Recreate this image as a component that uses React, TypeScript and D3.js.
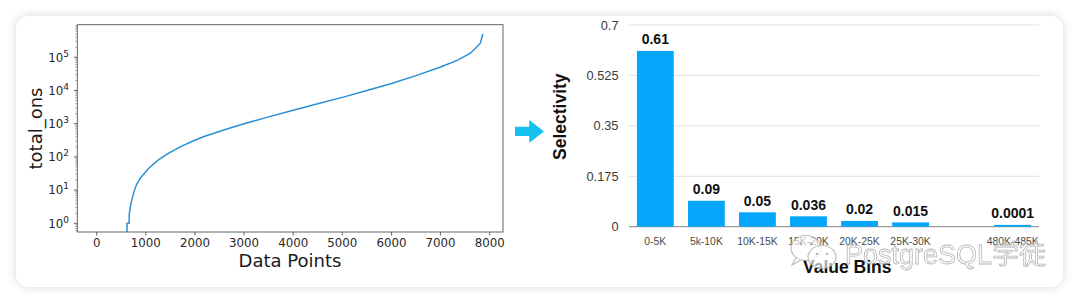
import React from "react";
import * as d3 from "d3";

// ---------- Left chart data (sorted total_ons per data point, log scale) ----------
const pointIndex = [615, 620, 660, 665, 698, 760, 814, 900, 1050, 1250, 1450, 1700, 1960, 2200, 2450, 2700, 3000, 3500, 4000, 4500, 5040, 5500, 6020, 6500, 7000, 7350, 7600, 7700, 7810, 7860];
const totalOns = [0.5, 1, 1, 2, 4, 9, 15, 24, 44, 80, 125, 200, 300, 417, 550, 725, 1000, 1600, 2550, 4000, 6400, 10000, 16500, 28000, 51000, 82000, 130000, 180000, 265000, 500000];
const xTicksLeft = [0, 1000, 2000, 3000, 4000, 5000, 6000, 7000, 8000];
const yExponents = [0, 1, 2, 3, 4, 5];

// ---------- Right chart data (selectivity per value bin) ----------
const bins = ["0-5K", "5k-10K", "10K-15K", "15K-20K", "20K-25K", "25K-30K", "", "480K-485K"];
const selectivity: (number | null)[] = [0.61, 0.09, 0.05, 0.036, 0.02, 0.015, null, 0.0001];
const yTicksRight = [0, 0.175, 0.35, 0.525, 0.7];
const yTickLabelsRight = ["0", "0.175", "0.35", "0.525", "0.7"];

const W = 1080;
const H = 304;

export default function App() {
  // Left chart scales
  const lx = d3.scaleLinear().domain([-394, 8271]).range([77.3, 503]);
  const ly = d3.scaleLog().domain([Math.pow(10, -0.262), Math.pow(10, 5.98)]).range([232, 24.7]);
  const lineGen = d3
    .line<number>()
    .x((_, i) => lx(pointIndex[i]))
    .y((v) => ly(v));
  const linePath = lineGen(totalOns) || "";
  const minorTicks: number[] = [];
  for (let e = -1; e <= 6; e++) {
    for (let m = 2; m <= 9; m++) {
      const v = m * Math.pow(10, e);
      const [lo, hi] = ly.domain();
      if (v >= lo && v <= hi) minorTicks.push(v);
    }
  }

  // Right chart scales
  const rx = d3.scaleBand<string>().domain(bins).range([629, 1039]).paddingInner(0.279).paddingOuter(0.155);
  const ry = d3.scaleLinear().domain([0, 0.7]).range([226.7, 25]);

  const mpl = "'DejaVu Sans', sans-serif";
  const helv = "'Liberation Sans', Arial, Helvetica, sans-serif";

  return (
    <svg
      width={W}
      height={H}
      viewBox={`0 0 ${W} ${H}`}
      style={{ position: "fixed", left: 0, top: 0, display: "block", background: "#ffffff" }}
    >
      <defs>
        <filter id="cardShadow" x="-5%" y="-10%" width="110%" height="120%">
          <feDropShadow dx="0" dy="0" stdDeviation="5" floodColor="#000" floodOpacity="0.16" />
        </filter>
        <clipPath id="leftClip">
          <rect x={77.3} y={24.7} width={503 - 77.3} height={232 - 24.7} />
        </clipPath>
      </defs>

      {/* card */}
      <rect x={16} y={16} width={1047} height={271} rx={13} ry={13} fill="#ffffff" filter="url(#cardShadow)" />

      {/* ---------- LEFT CHART ---------- */}
      <g>
        <rect x={77.3} y={24.7} width={503 - 77.3} height={232 - 24.7} fill="#fff" />
        <path d={linePath} fill="none" stroke="#2a8fd4" strokeWidth={1.5} clipPath="url(#leftClip)" />
        <rect x={77.3} y={24.7} width={503 - 77.3} height={232 - 24.7} fill="none" stroke="#555" strokeWidth={0.9} />
        {/* x ticks */}
        {xTicksLeft.map((t) => (
          <g key={"lx" + t}>
            <line x1={lx(t)} x2={lx(t)} y1={232} y2={235.5} stroke="#444" strokeWidth={0.8} />
            <text x={lx(t)} y={246.5} textAnchor="middle" fontFamily={mpl} fontSize={11.8} fill="#262626">
              {t}
            </text>
          </g>
        ))}
        {/* y major ticks */}
        {yExponents.map((e) => {
          const y = ly(Math.pow(10, e));
          return (
            <g key={"ly" + e}>
              <line x1={77.3} x2={73.8} y1={y} y2={y} stroke="#444" strokeWidth={0.8} />
              <text x={69} y={y + 4.3} textAnchor="end" fontFamily={mpl} fontSize={11.8} fill="#262626">
                <tspan>10</tspan>
                <tspan dy={-5} fontSize={9}>{e}</tspan>
              </text>
            </g>
          );
        })}
        {minorTicks.map((v, i) => (
          <line key={"lm" + i} x1={77.3} x2={75.3} y1={ly(v)} y2={ly(v)} stroke="#666" strokeWidth={0.6} />
        ))}
        <text x={290} y={266.5} textAnchor="middle" fontFamily={mpl} fontSize={18} fill="#1a1a1a">
          Data Points
        </text>
        <text
          transform={`translate(42,128.5) rotate(-90)`}
          textAnchor="middle"
          fontFamily={mpl}
          fontSize={18}
          fill="#1a1a1a"
        >
          total_ons
        </text>
      </g>

      {/* arrow */}
      <path d="M515,126.7 L529.3,126.7 L529.3,120 L544,131.5 L529.3,142.7 L529.3,136 L515,136 Z" fill="#14c0f0" />

      {/* ---------- RIGHT CHART ---------- */}
      <g>
        {yTicksRight.map((t, i) => (
          <g key={"ry" + t}>
            <line
              x1={629}
              x2={1039}
              y1={ry(t)}
              y2={ry(t)}
              stroke={t === 0 ? "#9a9a9a" : "#e0e0e0"}
              strokeWidth={t === 0 ? 1.2 : 1}
            />
            <text x={618.5} y={ry(t) + 4.5} textAnchor="end" fontFamily={helv} fontSize={12.8} fill="#3a3a3a">
              {yTickLabelsRight[i]}
            </text>
          </g>
        ))}
        {bins.map((b, i) => {
          const v = selectivity[i];
          const x = rx(b) as number;
          const bw = rx.bandwidth();
          if (v === null) return null;
          const h = Math.max(ry(0) - ry(v), 1.8);
          return (
            <g key={"bar" + i}>
              <rect x={x} y={ry(0) - h} width={bw} height={h} fill="#04a6fa" />
              <text
                x={x + bw / 2}
                y={ry(0) - h - 6.5}
                textAnchor="middle"
                fontFamily={helv}
                fontWeight="bold"
                fontSize={14}
                fill="#111"
              >
                {String(v)}
              </text>
              <text x={x + bw / 2} y={244.5} textAnchor="middle" fontFamily={helv} fontSize={10.4} fill="#4a4a4a">
                {b}
              </text>
            </g>
          );
        })}
        <text
          transform={`translate(566,116.7) rotate(-90)`}
          textAnchor="middle"
          fontFamily={helv}
          fontWeight="bold"
          fontSize={17.5}
          fill="#111"
        >
          Selectivity
        </text>
        <text x={847.3} y={273.3} textAnchor="middle" fontFamily={helv} fontWeight="bold" fontSize={17.5} fill="#111">
          Value Bins
        </text>
      </g>

      {/* watermark */}
      <g opacity={0.85}>
        <ellipse cx={806} cy={248} rx={15} ry={12.5} fill="#fff" fillOpacity={0.75} stroke="#b0b0b0" strokeWidth={1.1} />
        <path d="M796,258 L792,265 L801,260" fill="#fff" fillOpacity={0.75} stroke="#b0b0b0" strokeWidth={1.1} />
        <circle cx={801} cy={244} r={1.4} fill="#b0b0b0" />
        <circle cx={811} cy={244} r={1.4} fill="#b0b0b0" />
        <ellipse cx={822} cy={257} rx={14} ry={11.5} fill="#fff" fillOpacity={0.75} stroke="#b0b0b0" strokeWidth={1.1} />
        <circle cx={817} cy={254} r={1.3} fill="#b0b0b0" />
        <circle cx={827} cy={254} r={1.3} fill="#b0b0b0" />
        <text
          x={845}
          y={264}
          fontFamily="'Liberation Sans', 'Noto Sans CJK SC', sans-serif"
          fontSize={27}
          fill="#ffffff"
          fillOpacity={0.7}
          stroke="#a8a8a8"
          strokeWidth={0.8}
        >
          PostgreSQL学徒
        </text>
      </g>
    </svg>
  );
}
